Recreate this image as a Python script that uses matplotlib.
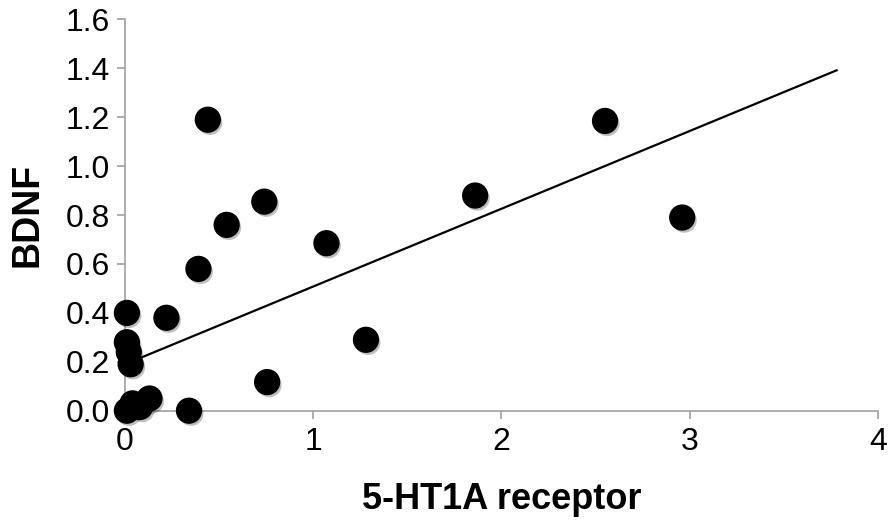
import matplotlib
matplotlib.use("Agg")
import matplotlib.pyplot as plt
import matplotlib.patheffects as pe

plt.rcParams["font.family"] = ["Liberation Sans", "DejaVu Sans"]

# receptor binding vs BDNF, one point per subject
receptor = [0.44, 2.55, 1.86, 0.74, 2.96, 0.54, 1.07, 0.39, 0.01, 0.22,
            1.28, 0.01, 0.02, 0.03, 0.755, 0.13, 0.04, 0.08, 0.01, 0.34]
bdnf = [1.19, 1.185, 0.88, 0.855, 0.79, 0.76, 0.685, 0.58, 0.40, 0.38,
        0.29, 0.28, 0.24, 0.19, 0.117, 0.05, 0.03, 0.015, 0.0, 0.0]

# linear trendline
trend_slope = 0.318
trend_intercept = 0.19
trend_x = [0.01, 3.78]

xticks = [0, 1, 2, 3, 4]
yticks = [0.0, 0.2, 0.4, 0.6, 0.8, 1.0, 1.2, 1.4, 1.6]

fig = plt.figure(figsize=(8.91, 5.25), dpi=100)
ax = fig.add_axes([0.1403, 0.2177, 0.8451, 0.7452])

trend_y = [trend_intercept + trend_slope * x for x in trend_x]
ax.plot(trend_x, trend_y, color="black", lw=1.6, zorder=2)

ax.scatter(receptor, bdnf, s=320, color="black", zorder=3, clip_on=False,
           path_effects=[pe.SimplePatchShadow(offset=(1.5, -2), alpha=0.25),
                         pe.Normal()])

ax.set_xlim(0, 4)
ax.set_ylim(0, 1.6)
ax.set_xticks(xticks)
ax.set_xticklabels([str(v) for v in xticks])
ax.set_yticks(yticks)
ax.set_yticklabels([f"{v:.1f}" for v in yticks])

for side in ["top", "right"]:
    ax.spines[side].set_visible(False)
for side in ["left", "bottom"]:
    ax.spines[side].set_color("#a0a0a0")
    ax.spines[side].set_linewidth(1.2)
ax.tick_params(colors="#a0a0a0", labelcolor="black", labelsize=23,
               length=6, width=1.2, direction="out")
ax.tick_params(axis="x", pad=6)
ax.tick_params(axis="y", pad=5)

ax.set_xlabel("5-HT1A receptor", fontsize=26, fontweight="bold", labelpad=18)
ax.set_ylabel("BDNF", fontsize=27, fontweight="bold", labelpad=14)

fig.savefig("out.png", dpi=100)
